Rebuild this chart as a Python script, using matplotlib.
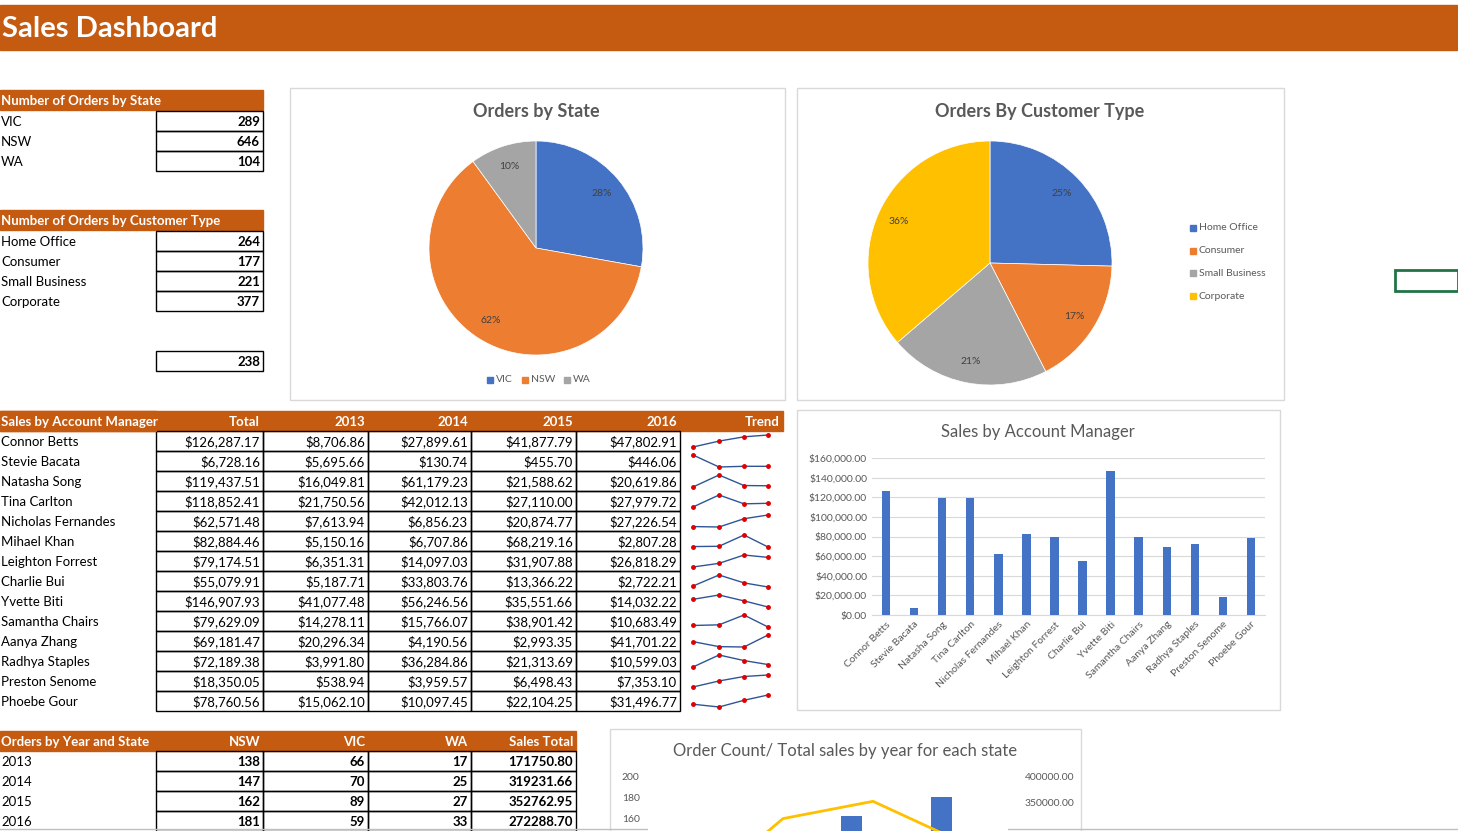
import matplotlib
matplotlib.use("Agg")
import matplotlib.pyplot as plt
from matplotlib.patches import Rectangle
import numpy as np

plt.rcParams['font.family'] = ['Lato', 'DejaVu Sans']

W, H = 1458, 831
ORANGE = "#C55A11"
BLUE, ORG, GRAY, YEL = "#4472C4", "#ED7D31", "#A5A5A5", "#FFC000"
TXT = "#595959"

states = ["VIC", "NSW", "WA"]
state_orders = [289, 646, 104]
ctypes = ["Home Office", "Consumer", "Small Business", "Corporate"]
ctype_orders = [264, 177, 221, 377]
extra_value = 238

managers = ["Connor Betts", "Stevie Bacata", "Natasha Song", "Tina Carlton", "Nicholas Fernandes",
            "Mihael Khan", "Leighton Forrest", "Charlie Bui", "Yvette Biti", "Samantha Chairs",
            "Aanya Zhang", "Radhya Staples", "Preston Senome", "Phoebe Gour"]
total = [126287.17, 6728.16, 119437.51, 118852.41, 62571.48, 82884.46, 79174.51, 55079.91,
         146907.93, 79629.09, 69181.47, 72189.38, 18350.05, 78760.56]
s2013 = [8706.86, 5695.66, 16049.81, 21750.56, 7613.94, 5150.16, 6351.31, 5187.71, 41077.48,
         14278.11, 20296.34, 3991.80, 538.94, 15062.10]
s2014 = [27899.61, 130.74, 61179.23, 42012.13, 6856.23, 6707.86, 14097.03, 33803.76, 56246.56,
         15766.07, 4190.56, 36284.86, 3959.57, 10097.45]
s2015 = [41877.79, 455.70, 21588.62, 27110.00, 20874.77, 68219.16, 31907.88, 13366.22, 35551.66,
         38901.42, 2993.35, 21313.69, 6498.43, 22104.25]
s2016 = [47802.91, 446.06, 20619.86, 27979.72, 27226.54, 2807.28, 26818.29, 2722.21, 14032.22,
         10683.49, 41701.22, 10599.03, 7353.10, 31496.77]

years = ["2013", "2014", "2015", "2016"]
nsw = [138, 147, 162, 181]
vic = [66, 70, 89, 59]
wa = [17, 25, 27, 33]
sales_total = [171750.80, 319231.66, 352762.95, 272288.70]

fig = plt.figure(figsize=(W/100, H/100), dpi=100)
ov = fig.add_axes([0, 0, 1, 1])
ov.set_xlim(0, W); ov.set_ylim(H, 0); ov.axis('off')

def axpx(x0, y0, x1, y1):
    return fig.add_axes([x0/W, 1-y1/H, (x1-x0)/W, (y1-y0)/H])

# header
ov.add_patch(Rectangle((0, 5), W, 45, color=ORANGE))
ov.text(2, 29, "Sales Dashboard", color="white", fontsize=21, fontweight="bold", va="center")
ov.plot([0, W], [829, 829], color="#BFBFBF", lw=1)
ov.add_patch(Rectangle((1395, 270), 63, 21, fill=False, ec="#217346", lw=2))

def money(v):
    return "${:,.2f}".format(v)

def header(y, cols, labels, x_end):
    ov.add_patch(Rectangle((0, y), x_end, 20, color=ORANGE))
    ov.text(1, y+11, labels[0], color="white", fontsize=9.5, fontweight="bold", va="center")
    for j, l in enumerate(labels[1:]):
        ov.text(cols[j+2]-3, y+11, l, color="white", fontsize=9.5, fontweight="bold", va="center", ha="right")

def cell(x0, x1, y, s, bold=False):
    ov.add_patch(Rectangle((x0, y), x1-x0, 20, fill=False, ec="black", lw=1))
    ov.text(x1-3, y+11, s, fontsize=9.5, va="center", ha="right", fontweight="bold" if bold else "normal")

# table 1
header(90, [0, 263], ["Number of Orders by State"], 263)
for i, (s, v) in enumerate(zip(states, state_orders)):
    y = 111 + 20*i
    ov.text(1, y+11, s, fontsize=9.5, va="center")
    cell(156, 263, y, str(v), True)
header(210, [0, 263], ["Number of Orders by Customer Type"], 263)
for i, (s, v) in enumerate(zip(ctypes, ctype_orders)):
    y = 231 + 20*i
    ov.text(1, y+11, s, fontsize=9.5, va="center")
    cell(156, 263, y, str(v), True)
cell(156, 263, 351, str(extra_value), True)

# sales table
cols = [0, 156, 263, 368, 471, 576, 680, 783]
header(411, cols, ["Sales by Account Manager", "Total", "2013", "2014", "2015", "2016", "Trend"], 783)
sx = [693, 719, 744, 768]
for i, m in enumerate(managers):
    y = 431 + 20*i
    ov.text(1, y+11, m, fontsize=9.5, va="center")
    vals = [total[i], s2013[i], s2014[i], s2015[i], s2016[i]]
    for j, v in enumerate(vals):
        cell(cols[j+1], cols[j+2], y, money(v))
    ys = np.array([s2013[i], s2014[i], s2015[i], s2016[i]])
    n = (ys - ys.min()) / (ys.max() - ys.min())
    py = y + 16 - n*12
    ov.plot(sx, py, color="#2F5597", lw=1)
    ov.plot(sx, py, 'o', color="#E00000", ms=2.5)
ov.add_patch(Rectangle((0, 411), 156, 20, color=ORANGE, zorder=3))
ov.text(1, 422, "Sales by Account Manager", color="white", fontsize=9.5, fontweight="bold", va="center", zorder=4)

# bottom table
cols2 = [0, 156, 263, 368, 471, 576]
header(731, cols2, ["Orders by Year and State", "NSW", "VIC", "WA", "Sales Total"], 576)
for i, yr in enumerate(years):
    y = 751 + 20*i
    ov.text(1, y+11, yr, fontsize=9.5, va="center")
    for j, v in enumerate([nsw[i], vic[i], wa[i]]):
        cell(cols2[j+1], cols2[j+2], y, str(v), True)
    cell(471, 576, y, "{:.2f}".format(sales_total[i]), True)

# chart frames
for (x0, y0, x1, y1) in [(290, 88, 785, 400), (797, 88, 1284, 400), (797, 410, 1280, 710), (610, 729, 1081, 880)]:
    ov.add_patch(Rectangle((x0, y0), x1-x0, y1-y0, fill=False, ec="#D9D9D9", lw=1))

# pie 1
ax = axpx(429, 141, 643, 355)
ax.pie(state_orders, colors=[BLUE, ORG, GRAY], startangle=90, counterclock=False,
       autopct="%1.0f%%", pctdistance=0.8, textprops=dict(fontsize=7.5, color="#404040"),
       wedgeprops=dict(ec="white", lw=0.5))
ax.set_xlim(-1, 1); ax.set_ylim(-1, 1); ax.set_aspect('equal')
ov.text(536, 112, "Orders by State", fontsize=13, fontweight="bold", color=TXT, ha="center", va="center")
for x, c, l in [(487, BLUE, "VIC"), (522, ORG, "NSW"), (564, GRAY, "WA")]:
    ov.add_patch(Rectangle((x, 377), 6, 6, color=c))
    ov.text(x+9, 380, l, fontsize=7.5, color=TXT, va="center")

# pie 2
ax = axpx(868, 141, 1112, 385)
ax.pie(ctype_orders, colors=[BLUE, ORG, GRAY, YEL], startangle=90, counterclock=False,
       autopct="%1.0f%%", pctdistance=0.82, textprops=dict(fontsize=7.5, color="#404040"),
       wedgeprops=dict(ec="white", lw=0.5))
ax.set_xlim(-1, 1); ax.set_ylim(-1, 1); ax.set_aspect('equal')
ov.text(1040, 112, "Orders By Customer Type", fontsize=13, fontweight="bold", color=TXT, ha="center", va="center")
for k, (c, l) in enumerate(zip([BLUE, ORG, GRAY, YEL], ctypes)):
    y = 228 + 22.7*k
    ov.add_patch(Rectangle((1190, y-3), 6, 6, color=c))
    ov.text(1199, y, l, fontsize=7.5, color=TXT, va="center")

# bar chart
ax = axpx(872, 458, 1265, 615)
x = np.arange(len(managers))
ax.bar(x, total, width=0.3, color=BLUE, zorder=3)
ax.set_ylim(0, 160000); ax.set_xlim(-0.5, len(managers)-0.5)
ax.set_yticks(np.arange(0, 160001, 20000))
ax.set_yticklabels(["${:,.2f}".format(v) for v in np.arange(0, 160001, 20000)], fontsize=7.5, color=TXT)
ax.set_xticks(x)
ax.set_xticklabels(managers, rotation=45, ha="right", rotation_mode="anchor", fontsize=7.5, color=TXT)
ax.grid(axis='y', color="#D9D9D9", lw=0.8, zorder=0)
for s in ["top", "right", "left"]:
    ax.spines[s].set_visible(False)
ax.spines["bottom"].set_color("#D9D9D9")
ax.tick_params(length=0)
ov.text(1038, 432, "Sales by Account Manager", fontsize=12, color=TXT, ha="center", va="center")

# bottom combo chart (cut off by the figure edge, as in the reference)
ax = axpx(648, 777, 1008, 983)
xi = np.arange(len(years))
bw = 0.24
ax.bar(xi-bw, nsw, bw, color=BLUE, zorder=3)
ax.bar(xi, vic, bw, color=ORG, zorder=3)
ax.bar(xi+bw, wa, bw, color=GRAY, zorder=3)
ax.set_ylim(0, 200); ax.set_xlim(-0.5, 3.5)
ax.set_yticks([160, 180, 200])
ax.tick_params(length=0, labelsize=7.5, colors=TXT, pad=6)
ax.set_xticks([])
for s in ax.spines.values():
    s.set_visible(False)
ax2 = ax.twinx()
ax2.plot(xi, sales_total, color=YEL, lw=2, zorder=4)
ax2.set_ylim(0, 400000)
ax2.set_yticks([350000, 400000])
ax2.set_yticklabels(["{:.2f}".format(v) for v in [350000, 400000]])
ax2.tick_params(length=0, labelsize=7.5, colors=TXT, pad=12)
for s in ax2.spines.values():
    s.set_visible(False)
ov.text(845, 751, "Order Count/ Total sales by year for each state", fontsize=12, color=TXT, ha="center", va="center")

fig.savefig("out.png", dpi=100)
